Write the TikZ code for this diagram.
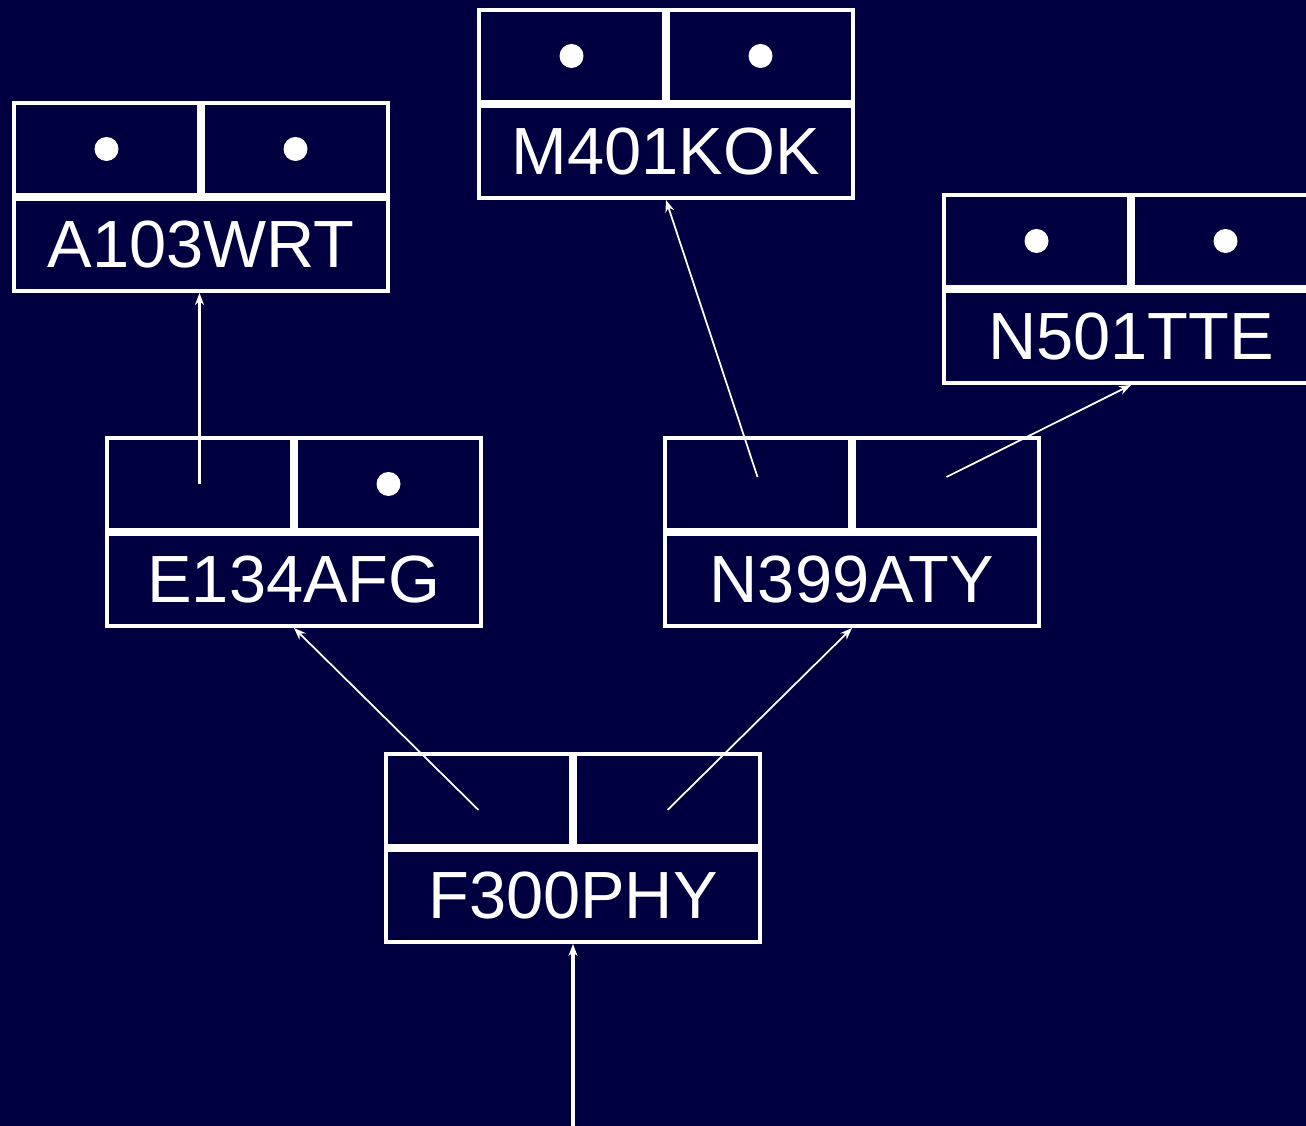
\documentclass[tikz,border=0pt]{standalone}
\usepackage{fontspec}
\setmainfont{Liberation Sans}
\usetikzlibrary{arrows.meta, positioning}
\definecolor{navy}{RGB}{0,0,64}

\tikzset{
  cell/.style={draw=white, line width=0.4mm, minimum width=1.85cm,
    minimum height=0.92cm, inner sep=0pt},
  namebox/.style={cell, minimum width=3.74cm, text=white,
    font=\fontsize{19}{23}\selectfont},
  ptr/.style={white, line width=0.5pt, -{Stealth[length=1.2mm, width=0.9mm]}}
}

\begin{document}
\begin{tikzpicture}[x=0.1mm, y=-0.1mm]
  \useasboundingbox (0,0) rectangle (1306,1126);
  \clip (0,0) rectangle (1306,1126);
  \fill[navy] (0,0) rectangle (1306,1126);

  % records: name box with two pointer cells on top
  \foreach \n/\x/\y/\t in {f300/573/896/F300PHY, e134/294/580/E134AFG,
      n399/852/580/N399ATY, a103/201/245/A103WRT,
      m401/666/152/M401KOK, n501/1131/337/N501TTE} {
    \node[namebox] (\n) at (\x,\y) {\t};
    \node[cell, above right=0pt of \n.north west] (\n-l) {};
    \node[cell, right=0pt of \n-l] (\n-r) {};
  }

  % null pointers
  \foreach \c in {e134-r, a103-l, a103-r, m401-l, m401-r, n501-l, n501-r}
    \fill[white] (\c.center) circle (0.12cm);

  % links
  \coordinate (entry) at (573,1126);
  \draw[ptr, line width=1.1pt] (entry) -- (f300.south);
  \draw[ptr] ([yshift=-1mm]f300-l.center) -- (e134.south);
  \draw[ptr] ([yshift=-1mm]f300-r.center) -- (n399.south);
  \draw[ptr, line width=1.1pt] (e134-l.center) -- (e134-l.center |- a103.south);
  \draw[ptr] ([yshift=0.7mm]n399-l.center) -- (m401.south);
  \draw[ptr] ([yshift=0.7mm]n399-r.center) -- (n501.south);
\end{tikzpicture}
\end{document}
